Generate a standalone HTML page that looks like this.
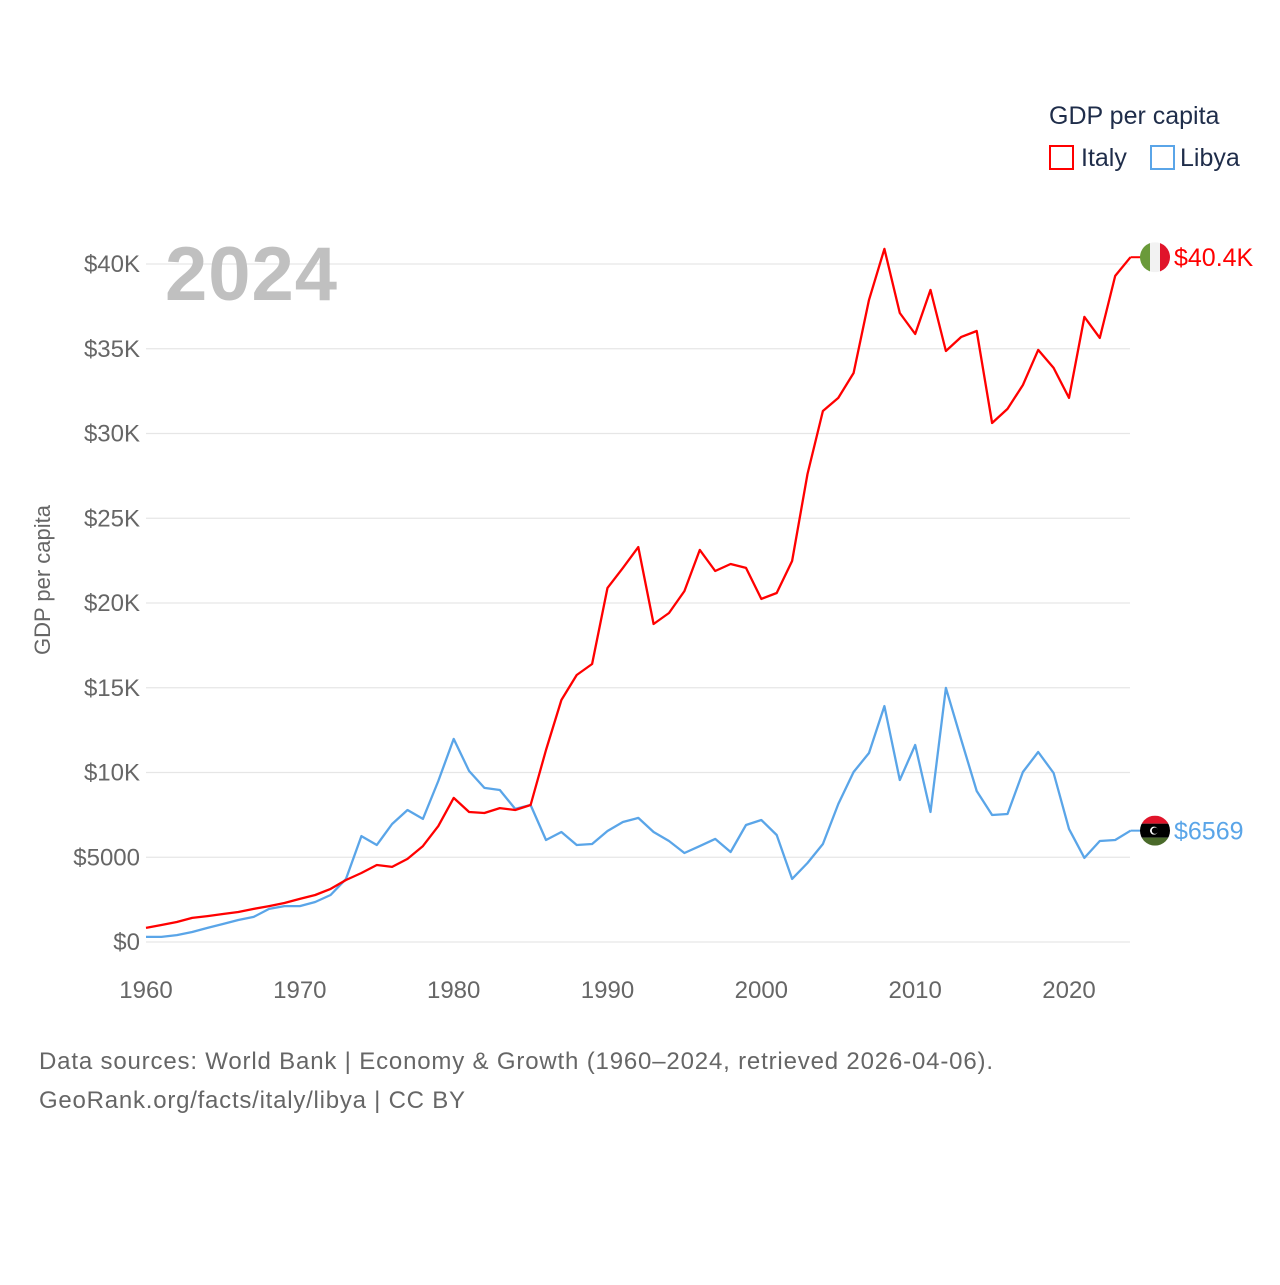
<!DOCTYPE html>
<html><head><meta charset="utf-8">
<style>
body{margin:0;background:#fff;font-family:"Liberation Sans",sans-serif;}
svg text{font-family:"Liberation Sans",sans-serif;}
</style></head>
<body>
<svg id="chart" width="1280" height="1280" xmlns="http://www.w3.org/2000/svg">
<g id="grid"></g>
<g id="yticks"></g>
<g id="xticks"></g>
<text x="165" y="300" font-size="76" font-weight="bold" fill="#c0c0c0" textLength="172">2024</text>
<text transform="translate(50,580) rotate(-90)" text-anchor="middle" font-size="22" fill="#666">GDP per capita</text>
<g id="series"></g>
<g>
<text x="1049" y="124" font-size="25" fill="#1f2d4a">GDP per capita</text>
<rect x="1050" y="146" width="23" height="23" fill="none" stroke="#f00" stroke-width="2"/>
<text x="1081" y="166" font-size="25" fill="#1f2d4a">Italy</text>
<rect x="1151" y="146" width="23" height="23" fill="none" stroke="#5aa5e8" stroke-width="2"/>
<text x="1180" y="166" font-size="25" fill="#1f2d4a">Libya</text>
</g>
<text x="39" y="1069" font-size="24" fill="#666" textLength="954">Data sources: World Bank | Economy &amp; Growth (1960–2024, retrieved 2026-04-06).</text>
<text x="39" y="1108" font-size="24" fill="#666" textLength="426">GeoRank.org/facts/italy/libya | CC BY</text>
</svg>
<script>
const years=[];for(let y=1960;y<=2024;y++)years.push(y);
const italy=[830,1000,1180,1420,1530,1650,1770,1950,2120,2300,2540,2770,3130,3660,4070,4540,4430,4900,5660,6840,8500,7670,7610,7900,7790,8080,11330,14280,15750,16400,20890,22070,23300,18760,19410,20700,23130,21890,22300,22070,20240,20590,22480,27610,31330,32100,33570,37880,40890,37110,35870,38470,34870,35700,36050,30620,31450,32860,34930,33870,32100,36880,35640,39300,40400];
const libya=[300,300,410,590,830,1060,1300,1480,1950,2120,2120,2360,2770,3720,6250,5720,6960,7790,7260,9500,11980,10090,9090,8970,7850,8080,6020,6490,5720,5780,6550,7080,7320,6490,5960,5250,5660,6080,5310,6900,7200,6310,3720,4660,5780,8140,10030,11150,13920,9560,11620,7670,14990,11920,8910,7490,7550,10030,11210,9970,6670,4960,5960,6020,6569];
const yTicks=[0,5000,10000,15000,20000,25000,30000,35000,40000];
const yTickLabels=["$0","$5000","$10K","$15K","$20K","$25K","$30K","$35K","$40K"];
const xTicks=[1960,1970,1980,1990,2000,2010,2020];
const endLabels=["$40.4K","$6569"];
const NS="http://www.w3.org/2000/svg";
const X=y=>146+(y-1960)*(1069-146)/60;
const Y=v=>942-v*(942-264)/40000;
function mk(tag,attrs,parent){const e=document.createElementNS(NS,tag);for(const k in attrs)e.setAttribute(k,attrs[k]);parent.appendChild(e);return e;}
const grid=document.getElementById('grid'),yt=document.getElementById('yticks'),xt=document.getElementById('xticks'),ser=document.getElementById('series');
yTicks.forEach((v,i)=>{
 const l=mk('line',{x1:146,x2:1130,y1:Y(v),y2:Y(v),stroke:'#e6e6e6','stroke-width':1.2},grid);
 
 
 const t=mk('text',{x:140,y:Y(v)+8,'text-anchor':'end','font-size':24,fill:'#666'},yt);
 t.textContent=yTickLabels[i];
 
 
});
xTicks.forEach(y=>{
 const t=mk('text',{x:X(y),y:998,'text-anchor':'middle','font-size':24,fill:'#666'},xt);
 t.textContent=y;
 
 
});
function line(vals,color,name,labelIdx,flag){
 const pts=vals.map((v,i)=>X(years[i]).toFixed(1)+','+Y(v).toFixed(1)).join(' ');
 const p=mk('polyline',{points:pts,fill:'none',stroke:color,'stroke-width':2.3,'stroke-linejoin':'round'},ser);
 
 
 const ly=Y(vals[vals.length-1]);
 mk('line',{x1:X(2024),x2:1145,y1:ly,y2:ly,stroke:color,'stroke-width':2},ser);
 const g=mk('g',{},ser);
 
 
 const cx=1155;
 const cp=mk('clipPath',{id:'c'+name},g);mk('circle',{cx:cx,cy:ly,r:15},cp);
 const gg=mk('g',{'clip-path':'url(#c'+name+')'},g);
 if(flag==='it'){mk('rect',{x:cx-15,y:ly-15,width:10,height:30,fill:'#6a9a3a'},gg);mk('rect',{x:cx-5,y:ly-15,width:10,height:30,fill:'#f2f2f2'},gg);mk('rect',{x:cx+5,y:ly-15,width:10,height:30,fill:'#e0142a'},gg);}
 else{mk('rect',{x:cx-15,y:ly-15,width:30,height:8,fill:'#e0142a'},gg);mk('rect',{x:cx-15,y:ly-7,width:30,height:14,fill:'#000'},gg);mk('rect',{x:cx-15,y:ly+7,width:30,height:8,fill:'#4a6a2a'},gg);mk('circle',{cx:cx-1,cy:ly,r:4,fill:'#fff'},gg);mk('circle',{cx:cx,cy:ly,r:3.2,fill:'#000'},gg);}
 const t=mk('text',{x:1174,y:ly+9,'font-size':25,fill:color},ser);
 t.textContent=endLabels[labelIdx];
 
 
}
line(libya,'#5aa5e8','libya',1,'ly');
line(italy,'#ff0000','italy',0,'it');
</script>
</body></html>
